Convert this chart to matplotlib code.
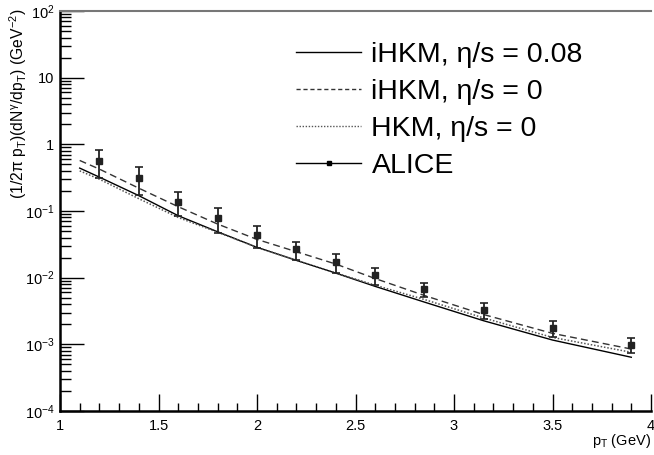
import numpy as np
import matplotlib
matplotlib.use('Agg')
import matplotlib.pyplot as plt
from matplotlib.lines import Line2D
from matplotlib.ticker import FixedLocator, FixedFormatter, MultipleLocator, LogLocator, NullFormatter

plt.rcParams['font.family'] = ['Liberation Sans', 'DejaVu Sans']
plt.rcParams['mathtext.fontset'] = 'custom'
plt.rcParams['mathtext.rm'] = 'Liberation Sans'
plt.rcParams['mathtext.it'] = 'Liberation Sans:italic'
plt.rcParams['mathtext.default'] = 'regular'

# model curves (p_T in GeV)
pt_model = [1.1, 1.2, 1.4, 1.6, 1.8, 2.0, 2.2, 2.4, 2.6, 2.85, 3.15, 3.5, 3.9]
ihkm_visc = [0.44, 0.322, 0.170, 0.085, 0.0488, 0.0285, 0.0182, 0.0117, 0.0074,
             0.0043, 0.00226, 0.00116, 0.00064]
ihkm_ideal = [0.573, 0.425, 0.22, 0.116, 0.0637, 0.0375, 0.0245, 0.0160, 0.0097,
              0.0054, 0.0028, 0.00146, 0.00085]
hkm_ideal = [0.40, 0.30, 0.153, 0.080, 0.0480, 0.0285, 0.0182, 0.0118, 0.0077,
             0.0047, 0.00249, 0.00127, 0.00076]

# ALICE direct photons
pt_alice = [1.2, 1.4, 1.6, 1.8, 2.0, 2.2, 2.4, 2.6, 2.85, 3.15, 3.5, 3.9]
y_alice = [0.567, 0.315, 0.138, 0.0784, 0.044, 0.0267, 0.0170, 0.0108, 0.0068,
           0.0033, 0.00176, 0.00099]
err_alice = [0.25, 0.14, 0.055, 0.031, 0.016, 0.008, 0.0053, 0.003, 0.0016,
             0.0009, 0.00045, 0.00026]

legend_labels = ['iHKM, η/s = 0.08', 'iHKM, η/s = 0', 'HKM, η/s = 0', 'ALICE']
xtick_vals = [1, 1.5, 2, 2.5, 3, 3.5, 4]
xtick_text = ['1', '1.5', '2', '2.5', '3', '3.5', '4']
ytick_vals = [1e-4, 1e-3, 1e-2, 1e-1, 1, 10, 100]
ytick_text = [r'$10^{-4}$', r'$10^{-3}$', r'$10^{-2}$', r'$10^{-1}$', '1', '10', r'$10^{2}$']

fig = plt.figure(figsize=(6.54, 4.55), dpi=100)
ax = fig.add_axes([60 / 654, 1 - 411 / 455, 591 / 654, 400 / 455])

ax.plot(pt_model, ihkm_visc, color='black', lw=1.0, ls='-')
ax.plot(pt_model, ihkm_ideal, color='#333333', lw=1.0, ls=(0, (5, 3)))
ax.plot(pt_model, hkm_ideal, color='#555555', lw=1.1, ls=(0, (1, 1.2)))
ax.errorbar(pt_alice, y_alice, yerr=err_alice, fmt='s', color='#222222', ms=4.5,
            elinewidth=1.3, capsize=3, capthick=1.2)

ax.set_yscale('log')
ax.set_xlim(1, 4)
ax.set_ylim(1e-4, 1e2)

ax.xaxis.set_major_locator(FixedLocator(xtick_vals))
ax.xaxis.set_major_formatter(FixedFormatter(xtick_text))
ax.xaxis.set_minor_locator(MultipleLocator(0.1))

ax.yaxis.set_major_locator(FixedLocator(ytick_vals))
ax.yaxis.set_major_formatter(FixedFormatter(ytick_text))
ax.yaxis.set_minor_locator(LogLocator(base=10, subs=np.arange(2, 10), numticks=20))
ax.yaxis.set_minor_formatter(NullFormatter())

ax.tick_params(axis='x', which='major', direction='in', length=12, width=1, labelsize=10.5, pad=6)
ax.tick_params(axis='x', which='minor', direction='in', length=6, width=1)
ax.tick_params(axis='y', which='major', direction='in', length=17, width=1, labelsize=10.5, pad=4)
ax.tick_params(axis='y', which='minor', direction='in', length=8, width=1)

ax.spines['left'].set_linewidth(1.8)
ax.spines['bottom'].set_linewidth(1.8)
ax.spines['top'].set_color('#777777')
ax.spines['top'].set_linewidth(1.5)
ax.spines['right'].set_visible(False)

# axis titles, ROOT style: pinned to the top / right ends
fig.text(18 / 654, 1 - 9 / 455, '(1/2π p$_{T}$)(dN$^{γ}$/dp$_{T}$) (GeV$^{-2}$)',
         fontsize=11.3, rotation=90, ha='center', va='top')
fig.text(651 / 654, 1 - 441 / 455, 'p$_{T}$ (GeV)', fontsize=10.5, ha='right', va='center')

handles = [
    Line2D([], [], color='black', lw=1.0),
    Line2D([], [], color='#333333', lw=1.0, ls=(0, (3, 2))),
    Line2D([], [], color='#555555', lw=1.0, ls=(0, (1, 1.2))),
    Line2D([], [], color='black', lw=1.0, marker='s', ms=3),
]
fig.legend(handles, legend_labels, loc='upper left', bbox_to_anchor=(296 / 654, 1 - 42 / 455),
           frameon=False, fontsize=20.5, handlelength=2.3, handletextpad=0.35,
           labelspacing=0.39, borderpad=0, borderaxespad=0)

fig.savefig('out.png', dpi=100)
